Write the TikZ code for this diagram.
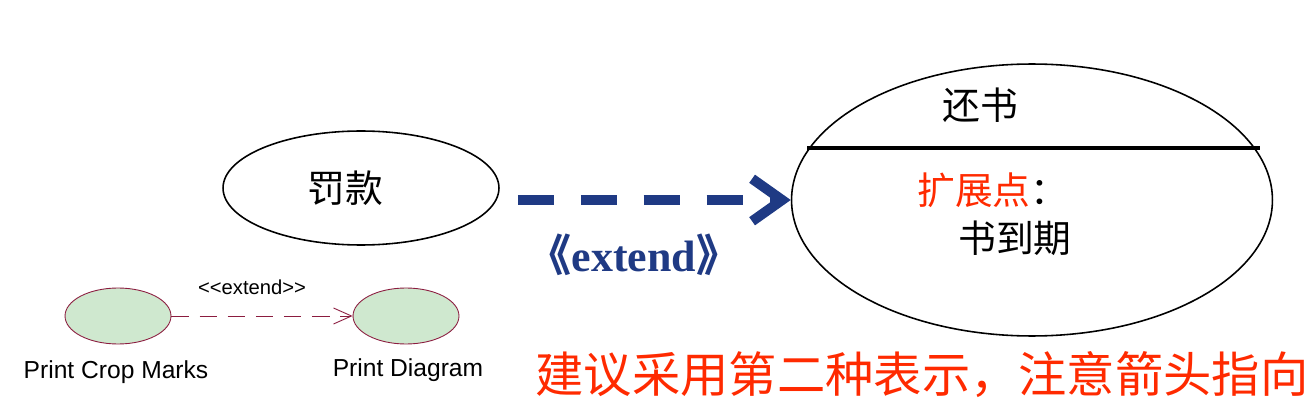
\documentclass[tikz,border=0pt]{standalone}
\usepackage{fontspec}
\setmainfont{Liberation Serif}
\newfontfamily\cjk{Noto Sans CJK SC}
\newfontfamily\arial{Liberation Sans}
\usetikzlibrary{shapes.geometric,arrows.meta}
\definecolor{navy}{HTML}{1F3A84}
\definecolor{hint}{HTML}{FF2A00}
\definecolor{uline}{HTML}{8B1C3F}
\definecolor{ufill}{HTML}{CFE8CF}
\tikzset{
 usecase/.style={ellipse,draw,line width=0.9pt,inner sep=0pt},
 smallcase/.style={ellipse,draw=uline,fill=ufill,line width=0.5pt,inner sep=0pt,minimum width=2.12cm,minimum height=1.12cm},
 cjktext/.style={font=\cjk\fontsize{21.5}{26}\selectfont,inner sep=0pt},
 umltext/.style={font=\arial\fontsize{14}{17}\selectfont,inner sep=0pt}
}
\begin{document}
\begin{tikzpicture}[x=0.02cm,y=-0.02cm,line join=round]
 \useasboundingbox (0,0) rectangle (1313,402);
 % use cases of the big example
 \node[usecase,minimum width=5.52cm,minimum height=2.28cm] (fine) at (361,188) {};
 \node[cjktext] (finetxt) at (345,188) {罚款};
 \node[usecase,minimum width=9.62cm,minimum height=5.44cm] (ret) at (1032,200) {};
 \draw[line width=2.2pt] (807,148) -- (1260,148);
 \node[cjktext] (rettxt) at (980,105) {还书};
 \node[cjktext,anchor=west] (point) at (917,190) {\textcolor{hint}{扩展点}：};
 \node[cjktext,anchor=west] (cond) at (958,238) {书到期};
 % extend arrow
 \draw[navy,line width=0.2cm,dash pattern=on 0.72cm off 0.54cm,shorten <=0.36cm,
  -{Straight Barb[length=0.6cm,width=0.85cm]}] (fine.east|-0,200) -- (ret.west);
 \node[navy,font=\bfseries\fontsize{25}{30}\selectfont,inner sep=0pt] (ext) at (634,255) {{\cjk 《}extend{\cjk 》}};
 % tool style example
 \node[smallcase] (crop) at (118,316) {};
 \node[smallcase] (diag) at (406,316) {};
 \draw[uline,line width=0.5pt,dash pattern=on 10pt off 6pt,-{Straight Barb[length=0.36cm,width=0.32cm]}] (crop) -- (diag);
 \node[font=\arial\fontsize{11.5}{14}\selectfont,inner sep=0pt] (stereo) at (252,287) {<{}<extend>{}>};
 \node[umltext] (croptxt) at (116,372) {Print Crop Marks};
 \node[umltext] (diagtxt) at (408,370) {Print Diagram};
 \node[hint,font=\cjk\fontsize{27.5}{33}\selectfont,inner sep=0pt] (advice) at (922,375) {建议采用第二种表示，注意箭头指向};
\end{tikzpicture}
\end{document}
